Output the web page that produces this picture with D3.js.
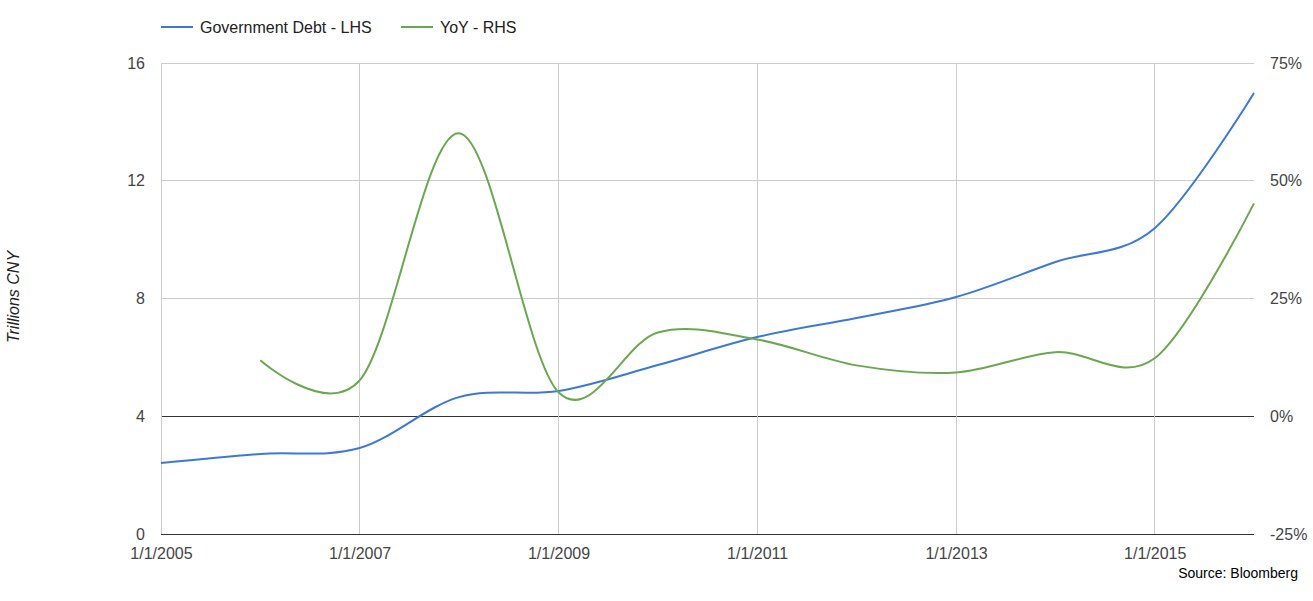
<!DOCTYPE html>
<html><head><meta charset="utf-8">
<script src="https://cdnjs.cloudflare.com/ajax/libs/d3/7.8.5/d3.min.js"></script>
<style>body{margin:0;background:#fff;font-family:Arial,"Liberation Sans",sans-serif}</style>
</head><body><svg id="c" width="1313" height="601"></svg>
<script>
const years = [2005,2006,2007,2008,2009,2010,2011,2012,2013,2014,2015,2016];
const debt = [2.41,2.72,2.92,4.65,4.86,5.74,6.69,7.34,8.05,9.24,10.39,14.98];
const yoyYears = [2006,2007,2008,2009,2010,2011,2012,2013,2014,2015,2016];
const yoy = [11.9,7.6,60.1,5.1,17.8,16.3,10.8,9.3,13.6,12.3,45.2];
const leftTicks = [0,4,8,12,16];
const rightTicks = [-25,0,25,50,75];
const xTickYears = [2005,2007,2009,2011,2013,2015];
const seriesNames = ["Government Debt - LHS","YoY - RHS"];
const colors = ["#3c78d8","#6aa84f"];

const svg = d3.select("#c");
const L=161,R=1254,T=63,B=534;
const x = d3.scaleTime().domain([new Date(2005,0,1),new Date(2016,0,1)]).range([L,R]);
const yL = d3.scaleLinear().domain([0,16]).range([B,T]);
const yR = d3.scaleLinear().domain([-25,75]).range([B,T]);

const hg = svg.append("g");
leftTicks.forEach(t=>{
  hg.append("line").attr("x1",L).attr("x2",R).attr("y1",yL(t)).attr("y2",yL(t))
    .attr("stroke",(t===0||t===4)?"#333":"#ccc").attr("stroke-width",1).attr("shape-rendering","crispEdges");
});
xTickYears.forEach(yr=>{
  hg.append("line").attr("x1",x(new Date(yr,0,1))).attr("x2",x(new Date(yr,0,1))).attr("y1",T).attr("y2",B)
    .attr("stroke","#ccc").attr("stroke-width",1).attr("shape-rendering","crispEdges");
});
hg.append("line").attr("x1",L).attr("x2",R).attr("y1",B).attr("y2",B).attr("stroke","#333").attr("shape-rendering","crispEdges");

const axL = d3.axisLeft(yL).tickValues(leftTicks).tickSize(0).tickPadding(16).tickFormat(d3.format("d"));
const gL = svg.append("g").attr("transform",`translate(${L},0)`).call(axL);
const axR = d3.axisRight(yR).tickValues(rightTicks).tickSize(0).tickPadding(16).tickFormat(d=>d+"%");
const gR = svg.append("g").attr("transform",`translate(${R},0)`).call(axR);
const fmt = d=>`${d.getMonth()+1}/${d.getDate()}/${d.getFullYear()}`;
const axB = d3.axisBottom(x).tickValues(xTickYears.map(y=>new Date(y,0,1))).tickSize(0).tickPadding(14).tickFormat(fmt);
const gB = svg.append("g").attr("transform",`translate(0,${B})`).call(axB);
[gL,gR,gB].forEach(g=>{
  g.select(".domain").remove();
  g.selectAll("text").attr("fill","#444").style("font-size","16px").style("font-family","Arial,'Liberation Sans',sans-serif");
});

const curve = d3.curveCardinal.tension(0);
const debtData = years.map((y,i)=>({d:new Date(y,0,1),v:debt[i]}));
const yoyData = yoyYears.map((y,i)=>({d:new Date(y,0,1),v:yoy[i]}));
svg.append("path").datum(debtData).attr("fill","none").attr("stroke",colors[0]).attr("stroke-width",2)
  .attr("d",d3.line().x(p=>x(p.d)).y(p=>yL(p.v)).curve(curve));
svg.append("path").datum(yoyData).attr("fill","none").attr("stroke",colors[1]).attr("stroke-width",2)
  .attr("d",d3.line().x(p=>x(p.d)).y(p=>yR(p.v)).curve(curve));

const legX=[161,401];
seriesNames.forEach((n,i)=>{
  svg.append("line").attr("x1",legX[i]).attr("x2",legX[i]+32).attr("y1",27).attr("y2",27).attr("stroke",colors[i]).attr("stroke-width",2);
  svg.append("text").attr("x",legX[i]+39).attr("y",33).text(n).attr("fill","#222").style("font-size","16px");
});

svg.append("text").attr("transform","translate(19,297) rotate(-90)").attr("text-anchor","middle")
  .style("font-size","16px").style("font-style","italic").attr("fill","#222").text("Trillions CNY");

svg.append("text").attr("x",1298).attr("y",578).attr("text-anchor","end").style("font-size","14px").attr("fill","#000").text("Source: Bloomberg");
</script></body></html>
